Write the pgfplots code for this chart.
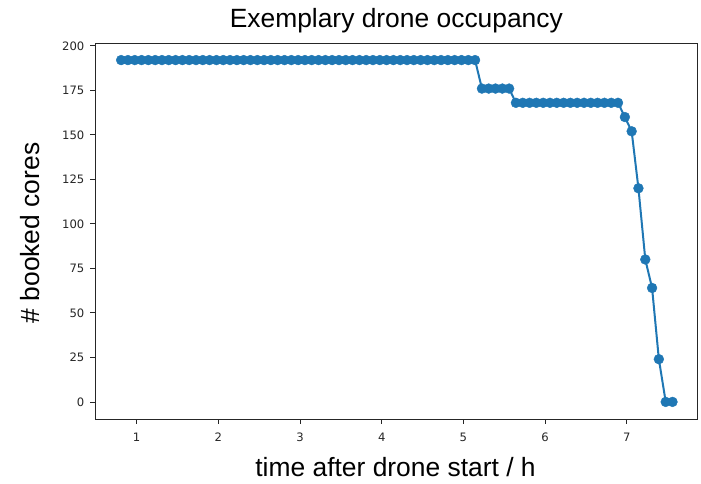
\documentclass[border=0pt]{standalone}
\usepackage{pgfplots}
\pgfplotsset{compat=1.18}
\usepackage{pgfplotstable}
\usepackage{fontspec}
\setmainfont{Liberation Sans}
\newfontfamily\dejavu{DejaVu Sans}
\definecolor{mplblue}{RGB}{31,119,180}
\definecolor{spine}{RGB}{38,38,38}

\pgfplotstableread{
t cores
0.810 192
0.893 192
0.977 192
1.060 192
1.143 192
1.227 192
1.310 192
1.393 192
1.477 192
1.560 192
1.643 192
1.727 192
1.810 192
1.893 192
1.977 192
2.060 192
2.143 192
2.227 192
2.310 192
2.393 192
2.477 192
2.560 192
2.643 192
2.727 192
2.810 192
2.893 192
2.977 192
3.060 192
3.143 192
3.227 192
3.310 192
3.393 192
3.477 192
3.560 192
3.643 192
3.727 192
3.810 192
3.893 192
3.977 192
4.060 192
4.143 192
4.227 192
4.310 192
4.393 192
4.477 192
4.560 192
4.643 192
4.727 192
4.810 192
4.893 192
4.977 192
5.060 192
5.143 192
5.227 176
5.310 176
5.393 176
5.477 176
5.560 176
5.643 168
5.727 168
5.810 168
5.893 168
5.977 168
6.060 168
6.143 168
6.227 168
6.310 168
6.393 168
6.477 168
6.560 168
6.643 168
6.727 168
6.810 168
6.893 168
6.977 160
7.060 152
7.143 120
7.227 80
7.310 64
7.393 24
7.477 0
7.560 0
}\occupancy

\begin{document}
\begin{tikzpicture}
\useasboundingbox (-71.25pt,-48.75pt) rectangle (454.5pt,314.25pt);
\begin{axis}[
  at={(0,0)}, anchor=south west,
  scale only axis,
  width=451.5pt, height=282pt,
  xmin=0.49, xmax=7.86,
  ymin=-9.6, ymax=201.6,
  xtick={1,2,3,4,5,6,7},
  ytick={0,25,50,75,100,125,150,175,200},
  axis line style={spine, line width=0.6pt},
  tick style={spine, line width=0.6pt},
  tick align=outside,
  major tick length=3.5pt,
  xtick pos=bottom, ytick pos=left,
  /pgf/number format/assume math mode=true,
  tick label style={font=\dejavu\fontsize{8.7}{10}\selectfont, text=black!85},
  xticklabel style={yshift=-3.5pt},
  yticklabel style={xshift=-1pt},
  clip=false,
]
\addplot[mplblue, line width=1.5pt, mark=*, mark size=3.7pt,
  mark options={solid, fill=mplblue, draw=mplblue, line width=0.3pt}]
  table[x=t, y=cores] {\occupancy};
\end{axis}
\node[anchor=base, font=\fontsize{19.8}{24}\selectfont] at (226pt,293.5pt) {Exemplary drone occupancy};
\node[anchor=base, font=\fontsize{19.8}{24}\selectfont] at (225.4pt,-43.3pt) {time after drone start / h};
\node[anchor=base, rotate=90, font=\fontsize{19.8}{24}\selectfont] at (-41.25pt,139.5pt) {\# booked cores};
\end{tikzpicture}
\end{document}
